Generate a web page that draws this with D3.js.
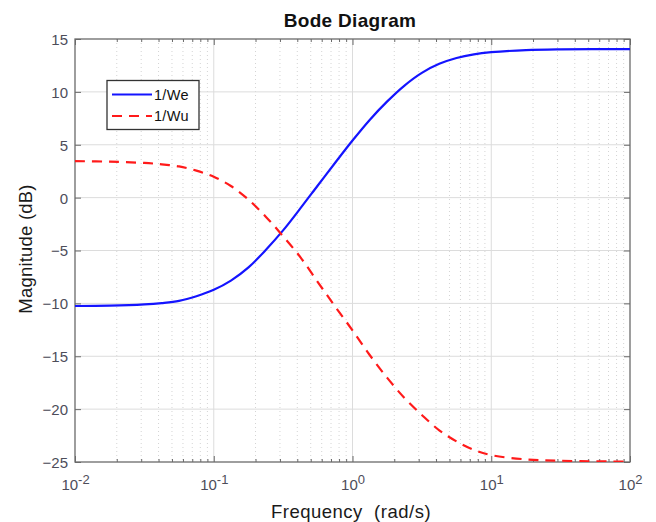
<!DOCTYPE html>
<html>
<head>
<meta charset="utf-8">
<script src="https://cdn.jsdelivr.net/npm/d3@7"></script>
<style>
  html, body { margin: 0; padding: 0; background: #fff; }
  svg { display: block; font-family: "Liberation Sans", Arial, sans-serif; }
</style>
</head>
<body>
<svg id="chart" width="656" height="522"></svg>
<script>
// Sample frequencies (rad/s) and magnitude responses (dB) of the two weighting inverses
const freq  = [0.01, 0.0178, 0.0316, 0.0422, 0.0562, 0.075, 0.1, 0.133, 0.178, 0.237, 0.316, 0.422, 0.562, 0.75, 1, 1.33, 1.78, 2.37, 3.16, 4.22, 5.62, 7.5, 10, 17.8, 31.6, 100];
const magWe = [-10.25, -10.22, -10.1, -9.97, -9.76, -9.32, -8.72, -7.85, -6.6, -4.95, -3.1, -1.0, 1.15, 3.3, 5.4, 7.35, 9.1, 10.6, 11.8, 12.65, 13.2, 13.55, 13.75, 13.95, 14.02, 14.05];
const magWu = [3.45, 3.4, 3.28, 3.15, 2.95, 2.55, 1.97, 1.1, -0.19, -1.8, -3.65, -5.65, -7.98, -10.3, -12.55, -14.88, -17.05, -18.95, -20.55, -22.0, -23.05, -23.85, -24.35, -24.75, -24.88, -24.97];

const seriesNames = ["1/We", "1/Wu"];
const yTicks = [-25, -20, -15, -10, -5, 0, 5, 10, 15];
const xDecades = [0.01, 0.1, 1, 10, 100];
const xExponents = ["-2", "-1", "0", "1", "2"];

const svg = d3.select("#chart");
const pLeft = 75, pRight = 630, pTop = 39, pBottom = 462;

const x = d3.scaleLog().domain([0.01, 100]).range([pLeft, pRight]);
const y = d3.scaleLinear().domain([-25, 15]).range([pBottom, pTop]);

// minor decade positions (2..9 within each decade)
const minor = [];
for (let d = 0; d < 4; d++) for (let k = 2; k <= 9; k++) minor.push(k * Math.pow(10, d - 2));

const grid = svg.append("g");
grid.selectAll(".vminor").data(minor).join("line")
  .attr("x1", d => x(d)).attr("x2", d => x(d)).attr("y1", pTop).attr("y2", pBottom)
  .attr("stroke", "#d4d4d4").attr("stroke-width", 1).attr("stroke-dasharray", "1,3");
grid.selectAll(".vmajor").data(xDecades.slice(1, -1)).join("line")
  .attr("x1", d => x(d)).attr("x2", d => x(d)).attr("y1", pTop).attr("y2", pBottom)
  .attr("stroke", "#dcdcdc").attr("stroke-width", 1);
grid.selectAll(".hmajor").data(yTicks.slice(1, -1)).join("line")
  .attr("x1", pLeft).attr("x2", pRight).attr("y1", d => y(d)).attr("y2", d => y(d))
  .attr("stroke", "#dcdcdc").attr("stroke-width", 1);

// axes (ticks point inward, box on all four sides)
const axisColor = "#6a6a6a";
function styleAxis(g) {
  g.select(".domain").remove();
  g.selectAll(".tick line").attr("stroke", axisColor);
  g.selectAll("text").attr("fill", "#4d4d5a").attr("font-size", 15);
}
const xb = svg.append("g").attr("transform", `translate(0,${pBottom})`)
  .call(d3.axisBottom(x).tickValues(xDecades).tickSize(-6).tickPadding(12).tickFormat(() => ""));
styleAxis(xb);
xb.selectAll(".tick text").each(function(d, i) {
  const t = d3.select(this).attr("text-anchor", "middle").attr("dy", "1.05em");
  t.append("tspan").text("10");
  t.append("tspan").attr("dy", "-0.45em").attr("font-size", 13).text(xExponents[i]);
});
const xbm = svg.append("g").attr("transform", `translate(0,${pBottom})`)
  .call(d3.axisBottom(x).tickValues(minor).tickSize(-3).tickFormat(() => ""));
styleAxis(xbm);
const xt = svg.append("g").attr("transform", `translate(0,${pTop})`)
  .call(d3.axisTop(x).tickValues(xDecades).tickSize(-6).tickFormat(() => ""));
styleAxis(xt);
const xtm = svg.append("g").attr("transform", `translate(0,${pTop})`)
  .call(d3.axisTop(x).tickValues(minor).tickSize(-3).tickFormat(() => ""));
styleAxis(xtm);

const yl = svg.append("g").attr("transform", `translate(${pLeft},0)`)
  .call(d3.axisLeft(y).tickValues(yTicks).tickSize(-6).tickPadding(8).tickFormat(d3.format("d")));
styleAxis(yl);
yl.selectAll(".tick text").attr("x", -7).attr("dy", "0.36em");
const yr = svg.append("g").attr("transform", `translate(${pRight},0)`)
  .call(d3.axisRight(y).tickValues(yTicks).tickSize(-6).tickFormat(() => ""));
styleAxis(yr);

svg.append("rect").attr("x", pLeft).attr("y", pTop).attr("width", pRight - pLeft).attr("height", pBottom - pTop)
  .attr("fill", "none").attr("stroke", axisColor).attr("stroke-width", 1.3);

// curves
const line = d3.line().x(d => x(d[0])).y(d => y(d[1])).curve(d3.curveCatmullRom.alpha(0.5));
svg.append("clipPath").attr("id", "plotclip").append("rect")
  .attr("x", pLeft).attr("y", pTop).attr("width", pRight - pLeft).attr("height", pBottom - pTop);
const plot = svg.append("g").attr("clip-path", "url(#plotclip)");
plot.append("path").datum(d3.zip(freq, magWe)).attr("d", line)
  .attr("fill", "none").attr("stroke", "#1414ff").attr("stroke-width", 2.2);
plot.append("path").datum(d3.zip(freq, magWu)).attr("d", line)
  .attr("fill", "none").attr("stroke", "#ff1a1a").attr("stroke-width", 2.2)
  .attr("stroke-dasharray", "10,7");

// legend
const lg = svg.append("g");
lg.append("rect").attr("x", 107).attr("y", 80.5).attr("width", 92).attr("height", 49)
  .attr("fill", "#fff").attr("stroke", "#333").attr("stroke-width", 1.3);
const legendRows = [
  { name: seriesNames[0], color: "#1414ff", dash: null, yy: 94.5 },
  { name: seriesNames[1], color: "#ff1a1a", dash: "10,7", yy: 116 }
];
legendRows.forEach(r => {
  lg.append("line").attr("x1", 112).attr("x2", 152).attr("y1", r.yy).attr("y2", r.yy)
    .attr("stroke", r.color).attr("stroke-width", 2.2).attr("stroke-dasharray", r.dash);
  lg.append("text").attr("x", 154).attr("y", r.yy + 5).attr("font-size", 14.5)
    .attr("letter-spacing", 0.3).attr("fill", "#111").text(r.name);
});

// titles
svg.append("text").attr("x", 350).attr("y", 26.5).attr("text-anchor", "middle")
  .attr("font-size", 19).attr("font-weight", "bold").attr("letter-spacing", 0.3)
  .attr("fill", "#111").text("Bode Diagram");
svg.append("text").attr("x", 351).attr("y", 518).attr("text-anchor", "middle")
  .attr("font-size", 18.5).attr("letter-spacing", 0.5).attr("fill", "#1a1a1a").style("white-space", "pre")
  .text("Frequency  (rad/s)");
svg.append("text").attr("transform", "translate(32,249) rotate(-90)").attr("text-anchor", "middle")
  .attr("font-size", 18.5).attr("letter-spacing", 0.2).attr("fill", "#1a1a1a").text("Magnitude (dB)");
</script>
</body>
</html>
